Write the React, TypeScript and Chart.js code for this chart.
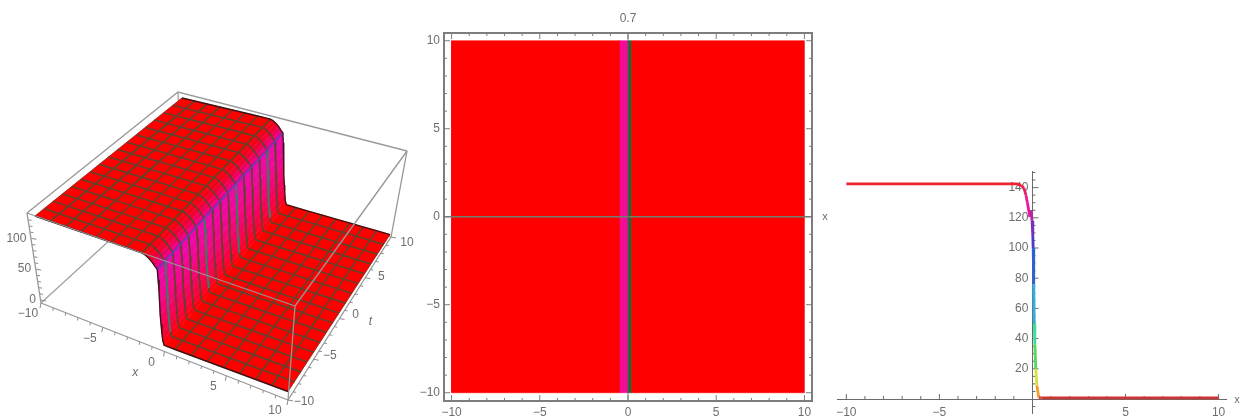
import React, { useEffect, useRef } from "react";
import { Chart, registerables } from "chart.js";

Chart.register(...registerables);

const FONT = { family: "'Liberation Sans', Arial, sans-serif", size: 12 };
const TEXT = "#6e6e6e";
const AXIS = "#6a6a6a";

/* ---------- shared profile data u(x) of the 3D surface ---------- */
const SURFACE_X = [-10, -8.75, -7.5, -6.25, -5, -3.75, -2.5, -1.25, -1, -0.7, -0.4, -0.2, 0, 0.05, 0.1, 0.125, 0.15, 0.2, 0.25, 0.3, 0.4, 1.25, 2.5, 3.75, 5, 6.25, 7.5, 8.75, 10];
const SURFACE_U = [143, 143, 143, 143, 143, 143, 143, 142.8, 141.5, 138, 133, 128, 124, 107, 90, 70, 50, 34, 20, 8, 1, 0.8, 0.8, 0.8, 0.8, 0.8, 0.8, 0.8, 0.8];
const BAND_COLORS = ["#ff0000", "#ff0000", "#ff0000", "#ff0000", "#ff0000", "#ff0000", "#ff0000", "#fa0004", "#f40018", "#f00034", "#ee0060", "#ec0088", "#ee08a8", "#ee08a0", "#f00890", "#f2067a", "#f40462", "#f6034a", "#fa0230", "#ff0012", "#ff0000", "#ff0000", "#ff0000", "#ff0000", "#ff0000", "#ff0000", "#ff0000", "#ff0000"];
const MESH_T = [-8.75, -7.5, -6.25, -5, -3.75, -2.5, -1.25, 0, 1.25, 2.5, 3.75, 5, 6.25, 7.5, 8.75];
const MESH_X = [-8.75, -7.5, -6.25, -5, -3.75, -2.5, -1.25, 0, 1.25, 2.5, 3.75, 5, 6.25, 7.5, 8.75];
const TEAL_T = [-8.75, -2.5, 2.5, 7.5];

/* 3D axis labels */
const X3D_TICKS = [-10, -5, 0, 5, 10];
const T3D_TICKS = [-10, -5, 0, 5, 10];
const Z3D_TICKS = [0, 50, 100];
const XT_MINOR = [-9, -8, -7, -6, -4, -3, -2, -1, 1, 2, 3, 4, 6, 7, 8, 9];
const Z_MINOR = [10, 20, 30, 40, 60, 70, 80, 90, 110, 120, 130];

/* Camera: where the corners of the surface's value box land in the frame */
const CAM_LOW = { a: [30, 296], b: [288, 392], c: [390, 235], d: [174, 173] };
const CAM_HIGH = { a: [35, 216], b: [279, 300], c: [384, 146], d: [182, 98] };
const U_TOP = 143;
/* Camera: corners of the bounding box, top and bottom */
const BOX_TOP = { a: [27, 213], b: [295, 306], c: [407, 151], d: [178, 92] };
const BOX_LOW = { a: [41, 303], b: [288, 400], c: [391, 237], d: [181, 175] };

type P = { x: number; y: number };
const bilerp = (q: any, f: number, g: number) => [
  (1 - f) * (1 - g) * q.a[0] + f * (1 - g) * q.b[0] + f * g * q.c[0] + (1 - f) * g * q.d[0],
  (1 - f) * (1 - g) * q.a[1] + f * (1 - g) * q.b[1] + f * g * q.c[1] + (1 - f) * g * q.d[1],
];
const project = (x: number, t: number, u: number): P => {
  const f = (x + 10) / 20, g = (t + 10) / 20, h = u / U_TOP;
  const lo = bilerp(CAM_LOW, f, g), hi = bilerp(CAM_HIGH, f, g);
  return { x: lo[0] + (hi[0] - lo[0]) * h, y: lo[1] + (hi[1] - lo[1]) * h };
};
const boxPt = (q: any, x: number, t: number): P => {
  const r = bilerp(q, (x + 10) / 20, (t + 10) / 20);
  return { x: r[0], y: r[1] };
};
const corner = (c: number[]): P => ({ x: c[0], y: c[1] });

const polyline = (data: P[], color: string, width: number) => ({
  data, showLine: true, borderColor: color, borderWidth: width, pointRadius: 0, fill: false, tension: 0, clip: false,
});
const polygon = (data: P[], color: string) => ({
  data: [...data, data[0]], showLine: true, borderColor: color, backgroundColor: color, borderWidth: 0.6,
  pointRadius: 0, fill: "shape", tension: 0, clip: false,
});

function surfaceDatasets() {
  const out: any[] = [];
  const BOX = "#a2a2a2";
  // back of the box
  out.push(polyline([corner(BOX_LOW.a), corner(BOX_LOW.d), corner(BOX_LOW.c)], BOX, 1.3));
  out.push(polyline([corner(BOX_TOP.a), corner(BOX_TOP.d), corner(BOX_TOP.c)], "#9a9a9a", 1.4));
  out.push(polyline([corner(BOX_LOW.d), corner(BOX_TOP.d)], BOX, 1.3));
  // surface
  for (let i = 0; i < SURFACE_X.length - 1; i++) {
    out.push(polygon([
      project(SURFACE_X[i], -10, SURFACE_U[i]),
      project(SURFACE_X[i + 1], -10, SURFACE_U[i + 1]),
      project(SURFACE_X[i + 1], 10, SURFACE_U[i + 1]),
      project(SURFACE_X[i], 10, SURFACE_U[i]),
    ], BAND_COLORS[i]));
  }
  // mesh along x (lines of constant t)
  MESH_T.forEach((t) => {
    out.push(polyline(SURFACE_X.map((x, i) => project(x, t, SURFACE_U[i])), "#65402a", 1.7));
  });
  TEAL_T.forEach((t) => {
    const idx = SURFACE_X.map((x, i) => i).filter((i) => SURFACE_X[i] >= 0 && SURFACE_X[i] <= 0.3);
    out.push(polyline(idx.map((i) => project(SURFACE_X[i], t, SURFACE_U[i])), "#48756c", 1.9));
  });
  // mesh along t (lines of constant x)
  MESH_X.forEach((x) => {
    const u = SURFACE_U[SURFACE_X.indexOf(x)];
    out.push(polyline([project(x, -10, u), project(x, 10, u)], x === 0 ? "#6a3cb0" : "#65402a", 1.7));
  });
  // surface outline
  const edge = (t: number) => SURFACE_X.map((x, i) => project(x, t, SURFACE_U[i]));
  out.push(polyline(edge(-10), "#3a1414", 1.4));
  out.push(polyline(edge(10), "#3a1414", 1.3));
  out.push(polyline([project(-10, -10, U_TOP), project(-10, 10, U_TOP)], "#8a2a1a", 0.8));
  out.push(polyline([project(10, -10, 0.8), project(10, 10, 0.8)], "#8a2a1a", 0.8));
  // front of the box
  [[BOX_TOP.a, BOX_TOP.b], [BOX_TOP.b, BOX_TOP.c], [BOX_TOP.c, BOX_LOW.c], [BOX_TOP.b, BOX_LOW.b], [BOX_TOP.a, BOX_LOW.a], [BOX_LOW.a, BOX_LOW.b], [BOX_LOW.b, BOX_LOW.c]].forEach(([p, q]) => {
    out.push(polyline([corner(p), corner(q)], "#969696", 1.3));
  });
  return out.reverse(); // Chart.js paints the first dataset last
}

const fmt = (v: number) => (v < 0 ? "\u2212" + Math.abs(v) : String(v));

const surfaceLabels = {
  id: "surfaceLabels",
  afterDraw(chart: any) {
    const { ctx, scales } = chart;
    const sx = (v: number) => scales.x.getPixelForValue(v);
    const sy = (v: number) => scales.y.getPixelForValue(v);
    ctx.save();
    ctx.fillStyle = TEXT;
    ctx.strokeStyle = "#8a8a8a";
    ctx.lineWidth = 1;
    const mark = (p: P, dx: number, dy: number) => {
      ctx.beginPath();
      ctx.moveTo(sx(p.x), sy(p.y));
      ctx.lineTo(sx(p.x) + dx, sy(p.y) + dy);
      ctx.stroke();
    };
    X3D_TICKS.forEach((v) => mark(boxPt(BOX_LOW, v, -10), -1, 5));
    T3D_TICKS.forEach((v) => mark(boxPt(BOX_LOW, 10, v), 5, 1));
    XT_MINOR.forEach((v) => {
      mark(boxPt(BOX_LOW, v, -10), -0.5, 3);
      mark(boxPt(BOX_LOW, 10, v), 3, 0.5);
    });
    const zEdge = (v: number): P => {
      const f = v / 146;
      return {
        x: BOX_LOW.a[0] + (BOX_TOP.a[0] - BOX_LOW.a[0]) * f,
        y: BOX_LOW.a[1] + (BOX_TOP.a[1] - BOX_LOW.a[1]) * f - 3,
      };
    };
    Z3D_TICKS.forEach((v) => mark(zEdge(v), 5, 1));
    Z_MINOR.forEach((v) => mark(zEdge(v), 3, 0.5));
    ctx.font = `${FONT.size}px ${FONT.family}`;
    ctx.textAlign = "center";
    ctx.textBaseline = "middle";
    X3D_TICKS.forEach((v) => {
      const p = boxPt(BOX_LOW, v, -10);
      ctx.fillText(fmt(v), sx(p.x) - 13, sy(p.y) + 11);
    });
    T3D_TICKS.forEach((v) => {
      const p = boxPt(BOX_LOW, 10, v);
      ctx.fillText(fmt(v), sx(p.x) + 16, sy(p.y) - 1 + (v === 10 ? 7 : v === -10 ? 3 : v === 5 ? 0 : -3));
    });
    Z3D_TICKS.forEach((v) => {
      const p = zEdge(v);
      ctx.textAlign = "right";
      ctx.fillText(fmt(v), sx(p.x) - 5, sy(p.y));
    });
    ctx.textAlign = "center";
    ctx.font = `italic ${FONT.size}px ${FONT.family}`;
    const xl = boxPt(BOX_LOW, -1, -10);
    ctx.fillText("x", sx(xl.x) - 17, sy(xl.y) + 26);
    const tl = boxPt(BOX_LOW, 10, 0);
    ctx.fillText("t", sx(tl.x) + 31, sy(tl.y) + 3);
    ctx.restore();
  },
};

/* ---------- density plot ---------- */
const STRIP_EDGES = [-10, -0.44, 0, 0.05, 0.22, 10];
const STRIP_COLORS = ["#ff0000", "#f50a96", "#2a40a8", "#1c6a2c", "#ff0000"];
const DENSITY_TICKS = [-10, -5, 0, 5, 10];
const DENSITY_MINOR = [-9, -8, -7, -6, -4, -3, -2, -1, 1, 2, 3, 4, 6, 7, 8, 9];
const PLOT_TITLE = "0.7";

const densityFrame = {
  id: "densityFrame",
  afterDatasetsDraw(chart: any) {
    const { ctx, chartArea: a, scales } = chart;
    ctx.save();
    ctx.strokeStyle = "#7d7d7d";
    ctx.lineWidth = 1;
    const tick = (v: number, len: number) => {
      const x = scales.x.getPixelForValue(v), y = scales.y.getPixelForValue(v);
      ctx.beginPath();
      ctx.moveTo(x, a.bottom); ctx.lineTo(x, a.bottom - len);
      ctx.moveTo(x, a.top); ctx.lineTo(x, a.top + len);
      ctx.moveTo(a.left, y); ctx.lineTo(a.left + len, y);
      ctx.moveTo(a.right, y); ctx.lineTo(a.right - len, y);
      ctx.stroke();
    };
    DENSITY_TICKS.forEach((v) => tick(v, 6));
    DENSITY_MINOR.forEach((v) => tick(v, 3));
    ctx.lineWidth = 2;
    ctx.strokeRect(a.left, a.top, a.right - a.left, a.bottom - a.top);
    ctx.fillStyle = TEXT;
    ctx.font = `${FONT.size - 1}px ${FONT.family}`;
    ctx.textAlign = "center";
    ctx.textBaseline = "middle";
    ctx.fillText("x", a.right + 13, scales.y.getPixelForValue(0));
    ctx.restore();
  },
};

function densityDatasets() {
  const out: any[] = [];
  STRIP_COLORS.forEach((c, i) => {
    out.push(polygon([
      { x: STRIP_EDGES[i], y: -10 }, { x: STRIP_EDGES[i + 1], y: -10 },
      { x: STRIP_EDGES[i + 1], y: 10 }, { x: STRIP_EDGES[i], y: 10 },
    ], c));
  });
  out.push(polyline([{ x: -10.43, y: 0 }, { x: 10.43, y: 0 }], "#6f8070", 1.3));
  out.push(polyline([{ x: 0, y: -10.4 }, { x: 0, y: 10.4 }], "#3e6a70", 0.8));
  return out.reverse();
}

/* ---------- section line ---------- */
const LINE_X = [-10, -0.85, -0.6, -0.45, -0.35, -0.27, -0.14, -0.07, -0.02, 0.02, 0.04, 0.07, 0.1, 0.13, 0.18, 0.24, 0.34, 0.5, 10];
const LINE_U = [142.5, 142.5, 141.5, 139.5, 135, 130, 120.5, 125, 118, 108, 100, 76, 50, 36, 20, 9, 1, 0.8, 0.8];
const LINE_COLORS = ["#ee2430", "#ee2430", "#e82050", "#e0206c", "#e81a98", "#ea1aa0", "#e81aa0", "#b028a8", "#7a30b4", "#4a3cc8", "#3060d8", "#30b0e0", "#40dca0", "#54d860", "#d8e040", "#f0a030", "#e04828", "#cf3434"];
const LINE_X_TICKS = [-10, -5, 5, 10];
const LINE_X_MINOR = [-9, -8, -7, -6, -4, -3, -2, -1, 1, 2, 3, 4, 6, 7, 8, 9];
const LINE_Y_TICKS = [20, 40, 60, 80, 100, 120, 140];
const LINE_Y_MINOR = [-5, 5, 10, 15, 25, 30, 35, 45, 50, 55, 65, 70, 75, 85, 90, 95, 105, 110, 115, 125, 130, 135, 145, 150];

const lineTicks = {
  id: "lineTicks",
  beforeDatasetsDraw(chart: any) {
    const { ctx, scales, chartArea: a } = chart;
    const x0 = scales.x.getPixelForValue(0), y0 = scales.y.getPixelForValue(0);
    ctx.save();
    ctx.strokeStyle = AXIS;
    ctx.lineWidth = 1;
    const vt = (v: number, l: number) => {
      const x = scales.x.getPixelForValue(v);
      ctx.beginPath(); ctx.moveTo(x, y0); ctx.lineTo(x, y0 - l); ctx.stroke();
    };
    const ht = (v: number, l: number) => {
      const y = scales.y.getPixelForValue(v);
      ctx.beginPath(); ctx.moveTo(x0, y); ctx.lineTo(x0 + l, y); ctx.stroke();
    };
    LINE_X_TICKS.forEach((v) => vt(v, 5));
    LINE_X_MINOR.forEach((v) => vt(v, 3));
    LINE_Y_TICKS.forEach((v) => ht(v, 6));
    LINE_Y_MINOR.forEach((v) => ht(v, 3));
    ctx.fillStyle = TEXT;
    ctx.font = `${FONT.size}px ${FONT.family}`;
    ctx.textAlign = "right";
    ctx.textBaseline = "middle";
    LINE_Y_TICKS.forEach((v) => ctx.fillText(fmt(v), x0 - 4, scales.y.getPixelForValue(v)));
    ctx.font = `${FONT.size - 1}px ${FONT.family}`;
    ctx.textAlign = "center";
    ctx.fillText("x", a.right + 11, y0 + 1);
    ctx.restore();
  },
};

function useChart(config: () => any) {
  const ref = useRef<HTMLCanvasElement | null>(null);
  useEffect(() => {
    const chart = new Chart(ref.current as HTMLCanvasElement, config());
    return () => chart.destroy();
  }, []);
  return ref;
}

const base = {
  responsive: false,
  animation: false,
  devicePixelRatio: 1,
  events: [],
};

const hiddenLegend = { legend: { display: false }, tooltip: { enabled: false } };

export default function App() {
  const surfaceRef = useChart(() => ({
    type: "scatter",
    data: { datasets: surfaceDatasets() },
    plugins: [surfaceLabels],
    options: {
      ...base,
      layout: { padding: 0 },
      plugins: { ...hiddenLegend },
      scales: {
        x: { type: "linear", min: 0, max: 420, display: false },
        y: { type: "linear", min: 80, max: 418, reverse: true, display: false },
      },
    },
  }));

  const densityRef = useChart(() => ({
    type: "scatter",
    data: { datasets: densityDatasets() },
    plugins: [densityFrame],
    options: {
      ...base,
      layout: { padding: { right: 28 } },
      plugins: {
        ...hiddenLegend,
        title: {
          display: true, text: PLOT_TITLE, color: TEXT, font: { ...FONT, weight: "normal" },
          padding: { top: 11, bottom: 7.6 }, align: "center",
          position: "top", fullSize: false,
        },
      },
      scales: {
        x: {
          type: "linear", min: -10.43, max: 10.43,
          afterBuildTicks: (s: any) => { s.ticks = DENSITY_TICKS.map((value) => ({ value })); },
          afterFit: (s: any) => { s.height = 17; },
          grid: { display: false, drawTicks: false }, border: { display: false },
          ticks: { color: TEXT, font: FONT, padding: 4, maxRotation: 0, autoSkip: false, callback: (v: number) => fmt(v) },
        },
        y: {
          type: "linear", min: -10.47, max: 10.44,
          afterBuildTicks: (s: any) => { s.ticks = DENSITY_TICKS.map((value) => ({ value })); },
          afterFit: (s: any) => { s.width = 24; },
          grid: { display: false, drawTicks: false }, border: { display: false },
          ticks: { color: TEXT, font: FONT, padding: 4, autoSkip: false, callback: (v: number) => fmt(v) },
        },
      },
    },
  }));

  const lineRef = useChart(() => ({
    type: "scatter",
    data: {
      datasets: [{
        data: LINE_X.map((x, i) => ({ x, y: LINE_U[i] })),
        showLine: true, pointRadius: 0, borderWidth: 2.8, tension: 0, borderColor: LINE_COLORS[0], clip: false,
        segment: { borderColor: (c: any) => LINE_COLORS[c.p0DataIndex] },
      }],
    },
    plugins: [lineTicks],
    options: {
      ...base,
      layout: { padding: { left: 7, right: 14, top: 11, bottom: 5 } },
      plugins: { ...hiddenLegend },
      scales: {
        x: {
          type: "linear", min: -10.46, max: 10.4, position: { y: 0 },
          afterBuildTicks: (s: any) => { s.ticks = LINE_X_TICKS.map((value) => ({ value })); },
          afterFit: (s: any) => { s.height = 0; },
          grid: { display: false, drawTicks: false }, border: { display: true, color: AXIS, width: 1 },
          ticks: { color: TEXT, font: FONT, padding: 6, maxRotation: 0, autoSkip: false, callback: (v: number) => fmt(v) },
        },
        y: {
          type: "linear", min: -9.27, max: 151, position: { x: 0 },
          afterBuildTicks: (s: any) => { s.ticks = LINE_Y_TICKS.map((value) => ({ value })); },
          afterFit: (s: any) => { s.width = 0; },
          grid: { display: false, drawTicks: false }, border: { display: true, color: AXIS, width: 1 },
          ticks: { display: false },
        },
      },
    },
  }));

  const box = (left: number, top: number): React.CSSProperties => ({
    position: "absolute", left, top, display: "block", filter: "blur(0.7px)",
  });

  return (
    <div style={{ position: "absolute", left: 0, top: 0, width: 1240, height: 418, background: "#fff", overflow: "hidden" }}>
      <canvas ref={surfaceRef} width={420} height={338} style={box(0, 80)} />
      <canvas ref={densityRef} width={420} height={418} style={box(420, 0)} />
      <canvas ref={lineRef} width={410} height={258} style={box(830, 160)} />
    </div>
  );
}
